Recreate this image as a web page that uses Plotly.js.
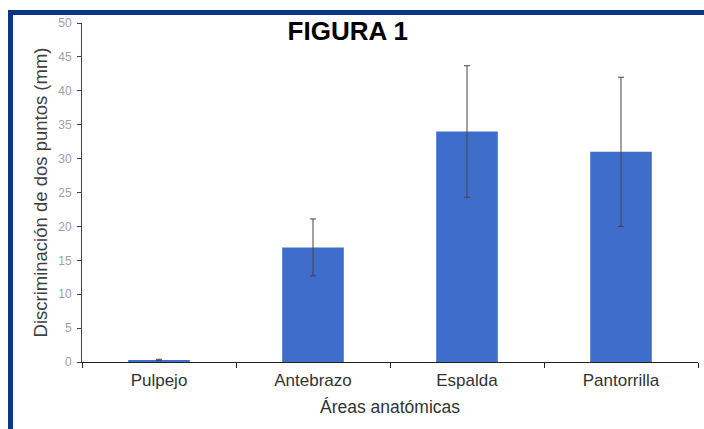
<!DOCTYPE html>
<html>
<head>
<meta charset="utf-8">
<script src="https://cdn.plot.ly/plotly-3.0.1.min.js"></script>
<style>
html,body{margin:0;padding:0;background:#fff;width:704px;height:429px;overflow:hidden;}
#frame{position:absolute;left:8px;top:10px;width:800px;height:500px;border-top:5px solid #0b3585;border-left:5px solid #0b3585;}
#chart{position:absolute;left:0;top:0;width:704px;height:429px;}
</style>
</head>
<body>
<div id="frame"></div>
<div id="chart"></div>
<script>
var categories = ["Pulpejo", "Antebrazo", "Espalda", "Pantorrilla"];
var means = [0.3, 16.9, 34.0, 31.0];
var errors = [0.1, 4.2, 9.7, 11.0];
var yTicks = [0, 5, 10, 15, 20, 25, 30, 35, 40, 45, 50];

var trace = {
  type: "bar",
  x: categories,
  y: means,
  marker: {color: "#3f6dcc"},
  error_y: {type: "data", array: errors, visible: true, color: "#444444", thickness: 1, width: 3},
  hoverinfo: "none"
};

var layout = {
  width: 704, height: 429,
  margin: {l: 82, r: 6, t: 23, b: 67},
  paper_bgcolor: "rgba(0,0,0,0)",
  plot_bgcolor: "rgba(0,0,0,0)",
  bargap: 0.6,
  showlegend: false,
  font: {family: "Liberation Sans, Arial, sans-serif"},
  title: {text: "<b>FIGURA 1</b>", font: {size: 26, color: "#000"}, x: 0.494, xanchor: "center", y: 0.928, yanchor: "middle"},
  xaxis: {
    type: "category",
    automargin: false,
    showline: true, linecolor: "#222", linewidth: 1,
    ticks: "outside", ticklen: 5, tickcolor: "#222", tickson: "boundaries",
    tickfont: {size: 17, color: "#333"},
    ticklabelstandoff: 3,
    showgrid: false, zeroline: false,
    title: {text: "Áreas anatómicas", font: {size: 17.5, color: "#333"}, standoff: 11}
  },
  yaxis: {
    range: [0, 50],
    automargin: false,
    tickvals: yTicks,
    showline: true, linecolor: "#444", linewidth: 1,
    ticks: "outside", ticklen: 4, tickcolor: "#444",
    tickfont: {size: 12, color: "#a0a0a0"},
    ticklabelstandoff: 3,
    showgrid: false, zeroline: false,
    title: {text: "Discriminación de dos puntos (mm)", font: {size: 18.5, color: "#404040"}, standoff: 5}
  }
};

Plotly.newPlot("chart", [trace], layout, {displayModeBar: false, staticPlot: true});
</script>
</body>
</html>
